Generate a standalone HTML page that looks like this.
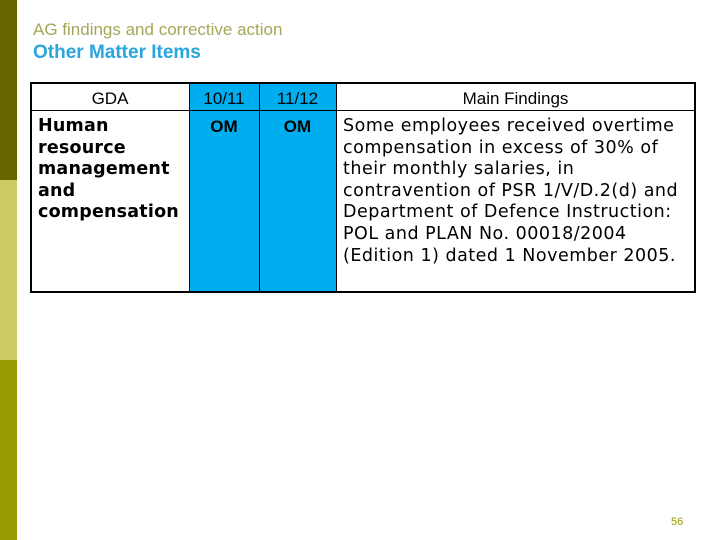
<!DOCTYPE html>
<html><head><meta charset="utf-8"><style>
body{margin:0;width:720px;height:540px;background:#fff;position:relative;overflow:hidden;font-family:"Liberation Sans",sans-serif}
.bar{position:absolute;left:0;width:17px}
.t{position:absolute;white-space:nowrap}
.cell{position:absolute;box-sizing:border-box;font-family:"DejaVu Sans",sans-serif;font-size:17.5px;line-height:21.6px;color:#000}
.blue{background:#00aeef}
.h{font-family:"Liberation Sans",sans-serif;font-size:17px;text-align:center;top:88px}
.ln{position:absolute;background:#000}
</style></head><body>
<div class="bar" style="top:0;height:180px;background:#666600"></div>
<div class="bar" style="top:180px;height:180px;background:#cccc66"></div>
<div class="bar" style="top:360px;height:180px;background:#999900"></div>
<div class="t" style="left:33px;top:20px;font-size:17px;color:#a6a65a">AG findings and corrective action</div>
<div class="t" style="left:33px;top:42px;font-size:19px;font-weight:bold;color:#2aa6de">Other Matter Items</div>

<div>
<div class="cell blue" style="left:189px;top:83px;width:70px;height:209px"></div>
<div class="cell blue" style="left:259px;top:83px;width:77px;height:209px"></div>
<div class="cell h" style="left:31px;width:158px">GDA</div>
<div class="cell h" style="left:189px;width:70px">10/11</div>
<div class="cell h" style="left:259px;width:77px">11/12</div>
<div class="cell h" style="left:336px;width:359px">Main Findings</div>
<div class="cell" style="left:38px;top:116px;font-weight:bold;letter-spacing:0.2px">Human<br>resource<br>management<br>and<br>compensation</div>
<div class="cell" style="left:189px;top:116px;width:70px;text-align:center;font-family:'Liberation Sans',sans-serif;font-weight:bold;font-size:17px">OM</div>
<div class="cell" style="left:259px;top:116px;width:77px;text-align:center;font-family:'Liberation Sans',sans-serif;font-weight:bold;font-size:17px">OM</div>
<div class="cell" style="left:343px;top:116px;white-space:nowrap;letter-spacing:0.5px">Some employees received overtime<br>compensation in excess of 30% of<br>their monthly salaries, in<br>contravention of PSR 1/V/D.2(d) and<br>Department of Defence Instruction:<br>POL and PLAN No. 00018/2004<br>(Edition 1) dated 1 November 2005.</div>
<div class="ln" style="left:30px;top:82px;width:666px;height:2px"></div>
<div class="ln" style="left:30px;top:291px;width:666px;height:2px"></div>
<div class="ln" style="left:30px;top:82px;width:2px;height:211px"></div>
<div class="ln" style="left:694px;top:82px;width:2px;height:211px"></div>
<div class="ln" style="left:31px;top:110px;width:664px;height:1px"></div>
<div class="ln" style="left:189px;top:83px;width:1px;height:209px"></div>
<div class="ln" style="left:259px;top:83px;width:1px;height:209px"></div>
<div class="ln" style="left:336px;top:83px;width:1px;height:209px"></div>
</div>
<div class="t" style="left:671px;top:516px;font-size:11px;color:#999900">56</div>
</body></html>
